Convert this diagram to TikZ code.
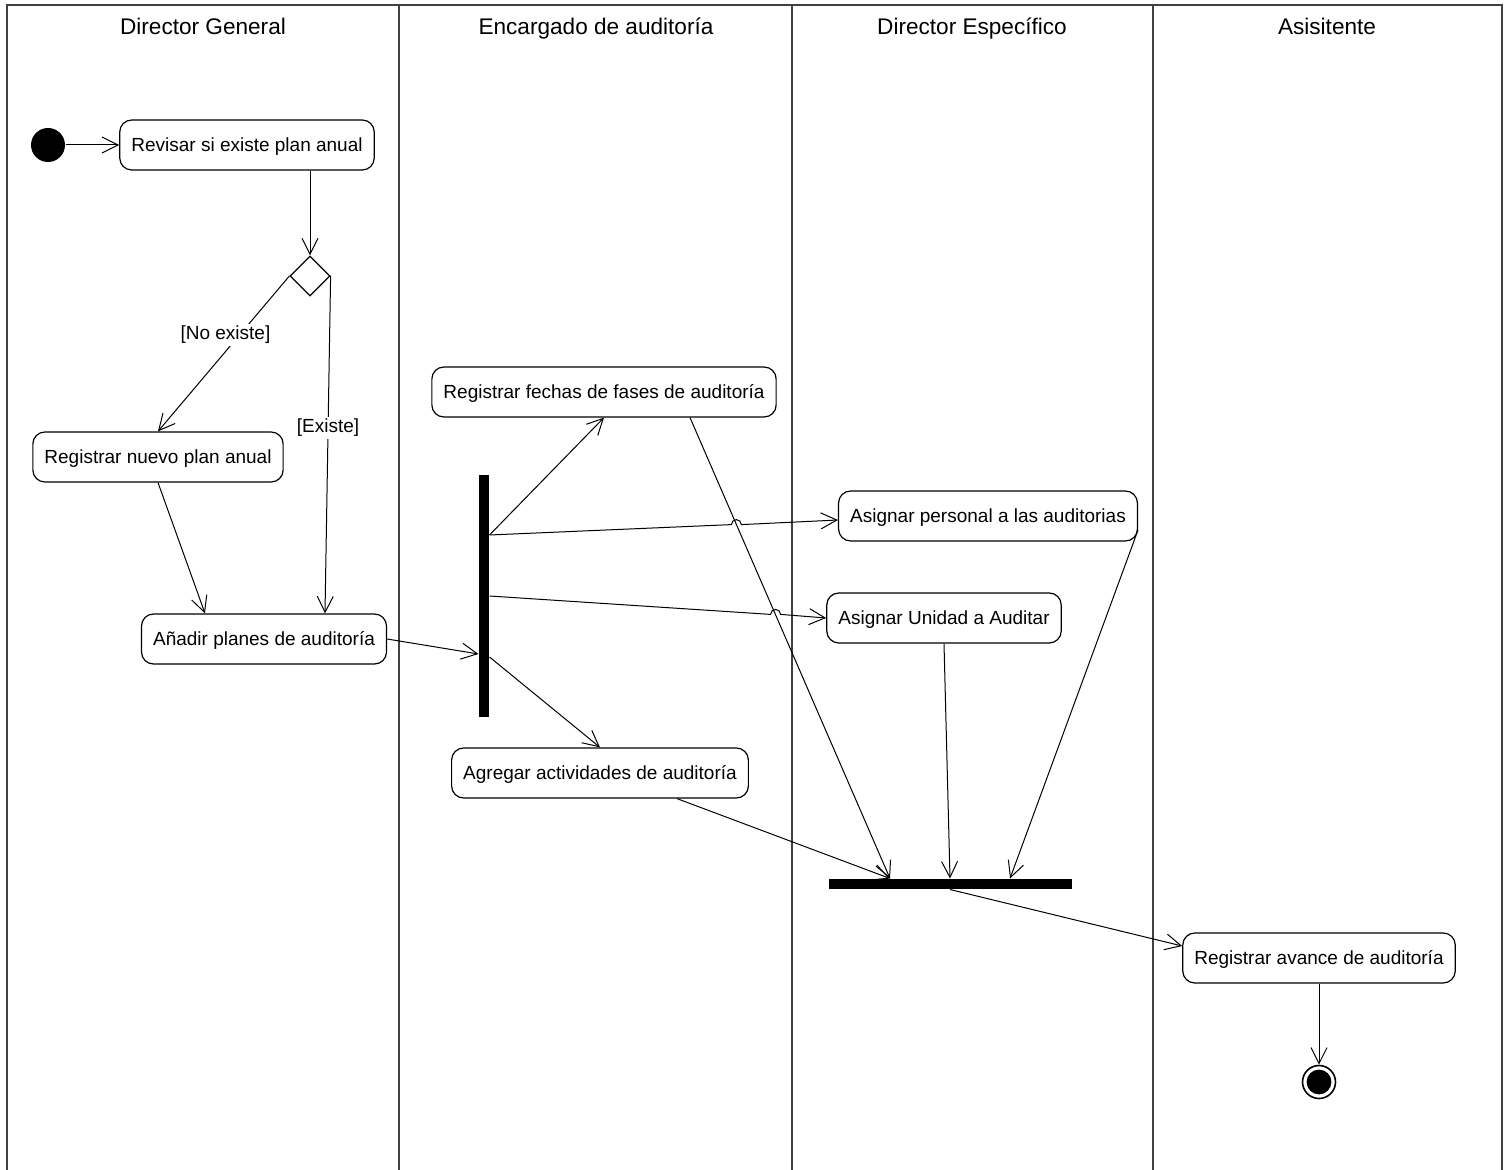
\documentclass[tikz,border=0pt]{standalone}
\usepackage{fontspec}
\setmainfont{Liberation Sans}
\usetikzlibrary{arrows.meta,shapes.geometric,calc}

\begin{document}
\begin{tikzpicture}[x=0.5pt,y=-0.5pt,>={Straight Barb[length=8pt,width=8pt]},
  font=\fontsize{9.5}{11}\selectfont, line width=0.5pt,
  act/.style={draw,rounded corners=6pt,inner xsep=5.8pt,minimum height=25pt,line width=0.6pt,
    text height=6.8pt,text depth=0pt},
  hd/.style={font=\fontsize{11.3}{13}\selectfont,text height=8.1pt,text depth=0pt},
  lane/.style={draw=black!75,line width=1pt},
  bar/.style={fill=black,inner sep=0pt},
  dec/.style={draw,diamond,minimum size=20pt,inner sep=0pt,line width=0.6pt},
  grd/.style={fill=white,inner sep=1pt},
  ini/.style={circle,fill=black,minimum size=17pt,inner sep=0pt},
  fin/.style={circle,draw,minimum size=16.5pt,inner sep=0pt,line width=0.8pt,
    path picture={\fill (path picture bounding box.center) circle[radius=6.2pt];}}]
  \useasboundingbox (0,0) rectangle (1509,1170);
  \draw[lane] (7,1170) -- (7,5) -- (1502,5) -- (1502,1170);
  \draw[lane] (399,5) -- (399,1170) (792,5) -- (792,1170) (1153,5) -- (1153,1170);
  \node[hd] (hdg) at (203,26) {Director General};
  \node[hd] (hea) at (596,26) {Encargado de auditoría};
  \node[hd] (hde) at (972,26) {Director Específico};
  \node[hd] (has) at (1327,26) {Asisitente};

  \node[ini] (start) at (48,145) {};
  \node[act] (revisar) at (247,145) {Revisar si existe plan anual};
  \node[dec] (dec) at (310,276) {};
  \node[act] (nuevo) at (158,457) {Registrar nuevo plan anual};
  \node[act] (anadir) at (264,639) {Añadir planes de auditoría};
  \node[act] (fechas) at (604,392) {Registrar fechas de fases de auditoría};
  \node[bar,minimum width=5pt,minimum height=121pt] (fork) at (484,596) {};
  \node[act] (agregar) at (600,773) {Agregar actividades de auditoría};
  \node[act] (personal) at (988,516) {Asignar personal a las auditorias};
  \node[act] (unidad) at (944,618) {Asignar Unidad a Auditar};
  \node[bar,minimum width=121.5pt,minimum height=5pt] (join) at (950,884) {};
  \node[act] (avance) at (1319,958) {Registrar avance de auditoría};
  \node[fin] (end) at (1319,1082) {};

  \draw[->] (start) -- (revisar);
  \draw[->] (dec.north |- revisar.south) -- (dec.north);
  \draw[->] (dec.west) -- node[grd,pos=0.38,xshift=-7pt] {[No existe]} (nuevo.north);
  \draw[->] (dec.east) -- node[grd,pos=0.45] {[Existe]} ($(anadir.north)+(61,0)$);
  \draw[->] (nuevo.south) -- ($(anadir.north)+(-59,0)$);
  \draw[->] (anadir.east) -- ($(fork.west)+(0,58)$);

  \coordinate (f1) at ($(fork.east)+(0,-61)$);
  \coordinate (f2) at (fork.east);
  \coordinate (f3) at ($(fork.east)+(0,61)$);
  \coordinate (p1) at ($(personal.west)+(0,4)$);
  \coordinate (p2) at (unidad.west);
  \coordinate (q1) at ($(fechas.south)+(86,0)$);
  \coordinate (j1) at ($(join.north)+(-60,0)$);
  \coordinate (j3) at ($(join.north)+(60,0)$);
  \coordinate (h1) at (intersection of f1--p1 and q1--j1);
  \coordinate (h2) at (intersection of f2--p2 and q1--j1);

  \draw[->] (f1) -- (fechas.south);
  \draw[->] (f1) -- ($(h1)!2.5pt!(f1)$) arc[start angle=180,end angle=0,radius=2.5pt] -- (p1);
  \draw[->] (f2) -- ($(h2)!2.5pt!(f2)$) arc[start angle=180,end angle=0,radius=2.5pt] -- (p2);
  \draw[->] (f3) -- (agregar.north);

  \draw[->] (q1) -- (j1);
  \draw[->] ($(agregar.south)+(77,0)$) -- (j1);
  \draw[->] (unidad.south) -- (join.north);
  \draw[->] ($(personal.east)+(0,14)$) -- (j3);
  \draw[->] (join.south) -- ($(avance.west)+(0,-12)$);
  \draw[->] (avance) -- (end);
\end{tikzpicture}
\end{document}
